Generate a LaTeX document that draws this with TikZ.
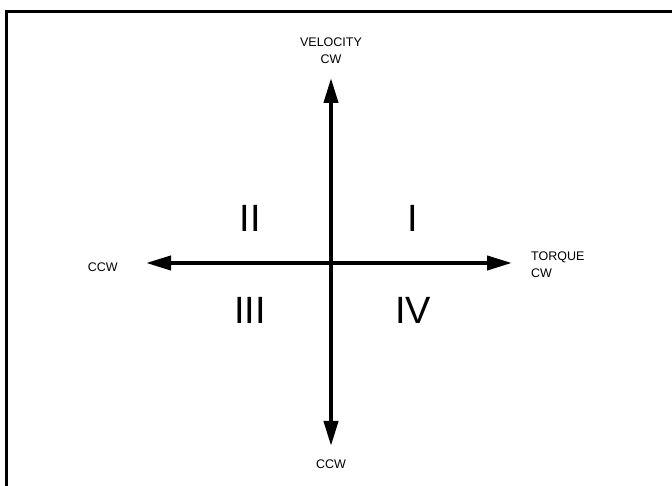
\documentclass[tikz,border=0pt]{standalone}
\usepackage{fontspec}
\setmainfont{Liberation Sans}
\usetikzlibrary{arrows.meta,positioning}

\begin{document}
\begin{tikzpicture}[x=1pt,y=1pt,>={Triangle[length=25pt,width=14pt]},
  axis/.style={line width=4pt,->},
  lbl/.style={font=\fontsize{12.5}{17}\selectfont,align=center,inner sep=0pt},
  quad/.style={font=\fontsize{38}{40}\selectfont,inner sep=0pt}]
\useasboundingbox (0,0) rectangle (672,486);
\fill[white] (0,0) rectangle (672,486);
\draw[line width=3pt] (6,-10) |- (690,474);
% axes
\coordinate (o) at (331,223);
\coordinate (top) at (331,408);
\coordinate (bot) at (331,40);
\coordinate (lft) at (146,223);
\coordinate (rgt) at (512,223);
\draw[axis] (o) -- (top);
\draw[axis] (o) -- (bot);
\draw[axis] (o) -- (lft);
\draw[axis] (o) -- (rgt);
% axis labels
\node[lbl,above=14pt of top] (vel) {VELOCITY\\CW};
\node[lbl,below=14pt of bot] (velccw) {CCW};
\node[lbl,left=28pt of lft,yshift=-4pt] (tqccw) {CCW};
\node[lbl,align=left,right=19pt of rgt,yshift=-2pt] (tq) {TORQUE\\CW};
% quadrants
\node[quad] (q1) at (413,268) {I};
\node[quad] (q2) at (250,268) {II};
\node[quad] (q3) at (250,176) {III};
\node[quad] (q4) at (413,176) {IV};
\end{tikzpicture}
\end{document}
